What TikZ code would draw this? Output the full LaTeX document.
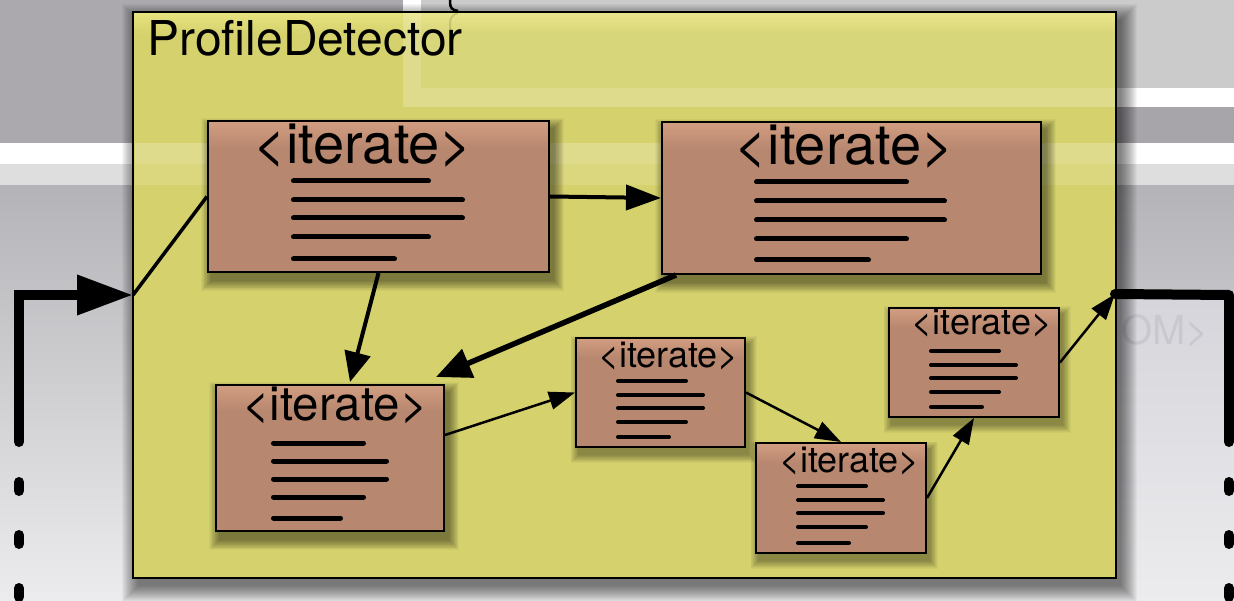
\documentclass[tikz,border=0pt]{standalone}
\usepackage{fontspec}
\setmainfont{TeX Gyre Heros}
\usetikzlibrary{arrows.meta,calc}

\definecolor{bgdark}{HTML}{ABA9AE}
\definecolor{bglight}{HTML}{CBCBCB}
\definecolor{bgmid}{HTML}{A8A5AA}
\definecolor{bgpale}{HTML}{DEDEDE}
\definecolor{bglow}{HTML}{B4B3B7}
\definecolor{bgbottom}{HTML}{ECECEE}
\definecolor{winfill}{HTML}{D6D5DB}
\definecolor{ghost}{HTML}{CAC8CE}
\definecolor{panelfill}{HTML}{D5D26D}
\definecolor{panelhi}{HTML}{E6E27E}
\definecolor{boxfill}{HTML}{B8876F}
\definecolor{boxtop}{HTML}{D29E82}

% box fill: flat, brightening smoothly towards the top edge
% (a TikZ shading maps the path onto 25bp--75bp)
\pgfdeclareverticalshading{boxshade}{100bp}{color(0bp)=(boxfill); color(66bp)=(boxfill); color(75bp)=(boxtop); color(100bp)=(boxtop)}

\pgfdeclarelayer{back}
\pgfdeclarelayer{shade}
\pgfsetlayers{back,shade,main}

\tikzset{
  panelbox/.style={rectangle, draw=black, line width=2.5pt, fill=panelfill, inner sep=0pt},
  itbox/.style={rectangle, draw=black, line width=2pt, shading=boxshade, inner sep=0pt},
  bigtext/.style={anchor=base, inner sep=0pt, font=\fontsize{56}{62}\selectfont},
  midtext/.style={anchor=base, inner sep=0pt, font=\fontsize{47.5}{54}\selectfont},
  smalltext/.style={anchor=base, inner sep=0pt, font=\fontsize{36}{42}\selectfont},
  bigbar/.style={line width=5pt, line cap=round},
  smallbar/.style={line width=4pt, line cap=round},
  flowline/.style={line width=10pt},
  link/.style={line width=2.5pt, -{Triangle[length=26pt,width=18pt]}},
  shadowstep/.style={fill=black, opacity=0.035},
}

% soft shadow under a named box: many stacked, faint rectangles
\newcommand\softshadow[4]{% node, x offset, y offset, last spread
  \foreach \e in {0,0.75,...,#4}
    \fill[shadowstep] ($(#1.north west)+(#2-\e,#3-\e)$) rectangle ($(#1.south east)+(#2+\e,#3+\e)$);
}

\begin{document}
\begin{tikzpicture}[x=1pt, y=-1pt]
\useasboundingbox (0,0) rectangle (1234,601);
\clip (0,0) rectangle (1234,601);

% iterate boxes
\node[itbox, minimum width=341pt, minimum height=151pt] (A) at (378.5,196.5) {};
\node[itbox, minimum width=379pt, minimum height=152pt] (B) at (851.5,198) {};
\node[itbox, minimum width=228pt, minimum height=146pt] (C) at (330,458) {};
\node[itbox, minimum width=169pt, minimum height=109pt] (D) at (660.5,392.5) {};
\node[itbox, minimum width=170pt, minimum height=110pt] (E) at (841,498) {};
\node[itbox, minimum width=170pt, minimum height=109pt] (F) at (974,362.5) {};

\begin{pgfonlayer}{back}
% window background bands
\shade[top color=bglow, bottom color=bgbottom] (0,185) rectangle (1234,601);
\fill[bgdark] (0,0) rectangle (403,143);
\fill[bglight] (421,0) rectangle (1234,88);
\fill[white] (403,0) rectangle (421,107);
\fill[white] (403,88) rectangle (1234,107);
\fill[bgmid] (403,107) rectangle (1234,143);
\fill[white] (0,143) rectangle (1234,164);
\fill[bgpale] (0,164) rectangle (1234,185);
\shade[top color=winfill, bottom color=bgbottom] (1116,300) rectangle (1234,601);
\node[ghost, anchor=base west, inner sep=0pt, font=\fontsize{40}{46}\selectfont] (om) at (1121,345) {OM>};

% brace of the code block behind the panel
\draw[line width=2.5pt] (450,-4) -- (450,2) .. controls (450,8) and (452,10) .. (458,11);

% panel with its shadow
\coordinate (pnw) at (133,12);
\coordinate (pse) at (1116,578);
\foreach \e in {0,1,...,16}
  \fill[shadowstep] ($(pnw)+(5-\e,8-\e)$) rectangle ($(pse)+(5+\e,8+\e)$);
\node[panelbox, minimum width=983pt, minimum height=566pt] (panel) at (624.5,295) {};
% lighter bands of the window showing through the panel
\shade[top color=panelhi, bottom color=panelfill] (134.5,13.5) rectangle (1114.5,34);
\fill[white, opacity=0.09] (421,13.5) rectangle (1114.5,88);
\fill[white, opacity=0.22] (403,13.5) rectangle (421,107);
\fill[white, opacity=0.22] (421,88) rectangle (1114.5,107);
\fill[white, opacity=0.22] (134.5,143) rectangle (1114.5,164);
\fill[white, opacity=0.12] (134.5,164) rectangle (1114.5,185);
\draw[black, opacity=0.12, line width=2pt] (458,13) .. controls (452,15) and (450,18) .. (450,24) -- (450,45);
\end{pgfonlayer}

\begin{pgfonlayer}{shade}
\softshadow{A}{4}{8}{10}
\softshadow{B}{4}{8}{10}
\softshadow{C}{4}{8}{10}
\softshadow{D}{3}{7}{8}
\softshadow{E}{3}{7}{8}
\softshadow{F}{3}{7}{8}
\end{pgfonlayer}

\node[anchor=base west, inner sep=0pt, font=\fontsize{48}{56}\selectfont] (title) at (147,56) {ProfileDetector};

\node[bigtext] (tA) at (363,164) {<iterate>};
\node[bigtext] (tB) at (844.5,165) {<iterate>};
\node[midtext] (tC) at (335,420) {<iterate>};
\node[smalltext] (tD) at (668.5,367) {<iterate>};
\node[smalltext] (tE) at (849.5,472) {<iterate>};
\node[smalltext] (tF) at (982,335) {<iterate>};

% placeholder text lines
\foreach \y/\e in {181/431,200/465,218/465,237/431,259/397}
  \draw[bigbar] (293.5,\y) -- (\e-2.5,\y);
\foreach \y/\e in {182/909,201/947,220/947,239/909,260/871}
  \draw[bigbar] (756.5,\y) -- (\e-2.5,\y);
\foreach \y/\e in {443/366,461/389,479/389,497/366,518/343}
  \draw[bigbar] (273.5,\y) -- (\e-2.5,\y);
\foreach \y/\e in {381/688,395/705,408/705,422/688,437/671}
  \draw[smallbar] (618,\y) -- (\e-2,\y);
\foreach \y/\e in {486/868,500/885,513/885,527/868,543/851}
  \draw[smallbar] (798,\y) -- (\e-2,\y);
\foreach \y/\e in {351/1001,365/1018,378/1018,392/1001,407/984}
  \draw[smallbar] (931,\y) -- (\e-2,\y);

% flow into and out of the panel
\coordinate (entry) at (133,295);
\coordinate (exit) at (1115,294);
\coordinate (lcorner) at (19,295);
\coordinate (lend) at (19,442);
\coordinate (ldash) at (19,482);
\coordinate (lbottom) at (19,640);
\coordinate (rcorner) at (1229,295);
\coordinate (rend) at (1229,442);
\coordinate (rdash) at (1229,482);
\coordinate (rbottom) at (1229,640);

\draw[flowline, line cap=round, line join=miter, -{Triangle[length=56pt,width=38pt]}]
  (lend) -- (lcorner) -- (entry);
\draw[flowline, line cap=round, dash pattern=on 9pt off 44pt] (ldash) -- (lbottom);
\draw[flowline, line cap=round, line join=round] (exit) -- (rcorner) -- (rend);
\draw[flowline, line cap=round, dash pattern=on 9pt off 44pt] (rdash) -- (rbottom);

% connectors between the boxes
\draw[line width=3.5pt] (entry) -- (A.west);
\draw[line width=4pt, -{Triangle[length=35pt,width=25pt]}] (A.east) -- (B.west);
\draw[line width=4pt, -{Triangle[length=30pt,width=26pt]}] (A.south) -- ($(C.north)+(20,-2)$);
\draw[line width=5.5pt, -{Triangle[length=35pt,width=30pt]}] ($(B.south west)+(15,0)$) -- ($(C.north east)+(-9,-7)$);
\draw[link] ($(C.east)+(0,-23)$) -- (D.west);
\draw[link] (D.east) -- (E.north);
\draw[link] (E.east) -- (F.south);
\draw[link] (F.east) -- (exit);
\end{tikzpicture}
\end{document}
